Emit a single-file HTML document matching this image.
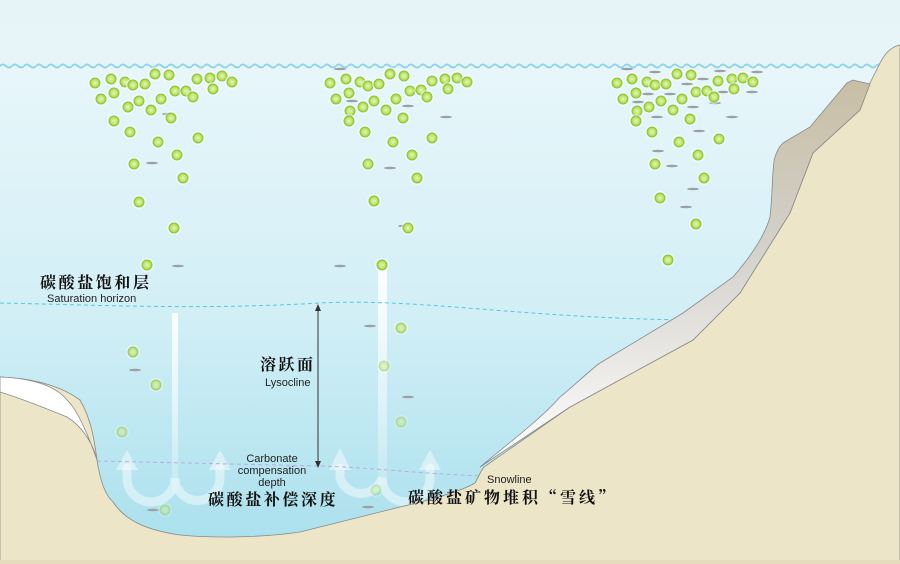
<!DOCTYPE html>
<html><head><meta charset="utf-8"><style>html,body{margin:0;padding:0;background:#fff}svg{display:block}</style></head><body>
<svg width="900" height="564" viewBox="0 0 900 564" xmlns="http://www.w3.org/2000/svg" xmlns:xlink="http://www.w3.org/1999/xlink">
<defs>
<linearGradient id="sky" x1="0" y1="0" x2="0" y2="1"><stop offset="0" stop-color="#e6f4f8"/><stop offset="1" stop-color="#f4fafc"/></linearGradient>
<linearGradient id="water" x1="0" y1="0" x2="0" y2="1"><stop offset="0" stop-color="#e8f6fa"/><stop offset="0.5" stop-color="#d2eff6"/><stop offset="1" stop-color="#a6dfec"/></linearGradient>
<linearGradient id="sed" x1="0" y1="0" x2="0" y2="1"><stop offset="0" stop-color="#c8bea4"/><stop offset="0.45" stop-color="#d4d2cc"/><stop offset="1" stop-color="#ffffff"/></linearGradient>
<linearGradient id="streak" x1="0" y1="0" x2="0" y2="1"><stop offset="0" stop-color="#fff" stop-opacity="1"/><stop offset="1" stop-color="#fff" stop-opacity="0.2"/></linearGradient>
<radialGradient id="pg" cx="0.5" cy="0.5" r="0.5"><stop offset="0" stop-color="#e6f6b8"/><stop offset="0.6" stop-color="#c2e66e"/><stop offset="1" stop-color="#9ccc3c"/></radialGradient>
<pattern id="wave" x="0" y="62" width="12" height="8" patternUnits="userSpaceOnUse"><path d="M0 4 q3 -3 6 0 t6 0" fill="none" stroke="#8fd6ea" stroke-width="2"/></pattern>
<g id="p"><circle r="7" fill="#fff" opacity="0.5"/><circle r="5" fill="url(#pg)" stroke="#8cc63f" stroke-width="1"/></g>
<g id="d"><ellipse rx="6" ry="1.3" fill="#9aa0a4"/></g>
</defs>
<rect width="900" height="564" fill="url(#sky)"/>
<rect x="0" y="66" width="900" height="498" fill="url(#water)"/>
<rect x="0" y="62" width="900" height="8" fill="url(#wave)"/>

<!-- white streaks -->
<rect x="172" y="313" width="6" height="180" fill="url(#streak)" opacity="0.9"/>
<rect x="378" y="265" width="9" height="220" fill="url(#streak)" opacity="0.9"/>
<g fill="none" stroke="#fff" stroke-opacity="0.45" stroke-width="9" stroke-linecap="round">
<path d="M127 468 V478 a22 22 0 0 0 48 0 a22 22 0 0 0 45 0 V468"/>
<path d="M340 468 V478 a22 22 0 0 0 42 0 a22 22 0 0 0 48 0 V468"/>
</g>
<g fill="#fff" fill-opacity="0.45">
<path d="M116 470 L127 450 L138 470 Z"/><path d="M209 470 L220 450 L231 470 Z"/>
<path d="M329 470 L340 448 L351 470 Z"/><path d="M419 470 L430 450 L441 470 Z"/>
</g>

<!-- dashed lines -->
<path d="M0 303 C100 305 200 310 320 303 C420 298 520 318 690 320" fill="none" stroke="#58c6dc" stroke-width="1" stroke-dasharray="4 3"/>
<path d="M97 461 L320 466 C380 468 420 474 485 476" fill="none" stroke="#b8aede" stroke-width="1" stroke-dasharray="4 3"/>

<!-- ground -->
<path d="M0 377 C30 378 60 385 80 400 C92 420 95 445 97 460 C100 480 105 495 113 502 C125 520 145 530 180 535 C210 538 260 538 300 532 L400 507 C430 500 460 492 475 483 C478 478 480 472 484 467 L570 407 L693 340 L740 293 L790 213 L813 153 L860 110 L870 83 L880 63 C884 55 890 47 900 45 L900 564 L0 564 Z" fill="#ece5c7" stroke="#888" stroke-width="0.8"/>
<rect x="0" y="560" width="900" height="4" fill="#e4dcbc"/>
<!-- left sediment -->
<path d="M0 377 C30 378 55 385 67 400 C78 410 90 440 97 460 C92 440 80 425 67 417 C45 408 20 398 0 392 Z" fill="#fff" stroke="#888" stroke-width="0.8"/>
<!-- right sediment -->
<path d="M480 467 C500 450 540 420 560 397 C575 385 590 370 600 363 L683 313 L733 277 C752 255 765 235 770 217 C773 190 772 165 775 157 C778 148 781 145 783 143 L810 127 L847 83 L853 80 L870 84 L860 110 L813 153 L790 213 L740 293 L693 340 L570 407 Z" fill="url(#sed)" stroke="#888" stroke-width="0.8"/>

<!-- arrow -->
<line x1="318" y1="309" x2="318" y2="463" stroke="#333" stroke-width="1"/>
<path d="M315 311 L318 304 L321 311 Z" fill="#333"/>
<path d="M315 461 L318 468 L321 461 Z" fill="#333"/>

<!-- dashes -->
<g>
<use href="#d" x="168" y="114"/><use href="#d" x="152" y="163"/><use href="#d" x="178" y="266"/><use href="#d" x="135" y="370"/><use href="#d" x="153" y="510"/>
<use href="#d" x="340" y="69"/><use href="#d" x="352" y="101"/><use href="#d" x="408" y="106"/><use href="#d" x="446" y="117"/><use href="#d" x="390" y="168"/><use href="#d" x="404" y="226"/><use href="#d" x="340" y="266"/><use href="#d" x="370" y="326"/><use href="#d" x="408" y="397"/><use href="#d" x="368" y="507"/>
<use href="#d" x="627" y="69"/><use href="#d" x="655" y="72"/><use href="#d" x="703" y="79"/><use href="#d" x="720" y="71"/><use href="#d" x="757" y="72"/><use href="#d" x="687" y="84"/><use href="#d" x="648" y="94"/><use href="#d" x="670" y="94"/><use href="#d" x="723" y="92"/><use href="#d" x="752" y="92"/><use href="#d" x="638" y="102"/><use href="#d" x="693" y="107"/><use href="#d" x="715" y="103"/><use href="#d" x="657" y="117"/><use href="#d" x="732" y="117"/><use href="#d" x="699" y="131"/><use href="#d" x="658" y="151"/><use href="#d" x="672" y="166"/><use href="#d" x="693" y="189"/><use href="#d" x="686" y="207"/>
</g>

<!-- particles -->
<g>
<use href="#p" x="95" y="83"/><use href="#p" x="111" y="79"/><use href="#p" x="125" y="82"/><use href="#p" x="133" y="85"/><use href="#p" x="145" y="84"/><use href="#p" x="155" y="74"/><use href="#p" x="169" y="75"/><use href="#p" x="175" y="91"/><use href="#p" x="186" y="91"/><use href="#p" x="197" y="79"/><use href="#p" x="210" y="78"/><use href="#p" x="222" y="76"/><use href="#p" x="232" y="82"/><use href="#p" x="213" y="89"/><use href="#p" x="193" y="97"/><use href="#p" x="101" y="99"/><use href="#p" x="114" y="93"/><use href="#p" x="128" y="107"/><use href="#p" x="139" y="101"/><use href="#p" x="151" y="110"/><use href="#p" x="161" y="99"/><use href="#p" x="171" y="118"/><use href="#p" x="114" y="121"/><use href="#p" x="130" y="132"/><use href="#p" x="158" y="142"/><use href="#p" x="198" y="138"/><use href="#p" x="134" y="164"/><use href="#p" x="177" y="155"/><use href="#p" x="183" y="178"/><use href="#p" x="139" y="202"/><use href="#p" x="174" y="228"/><use href="#p" x="147" y="265"/>
<use href="#p" x="133" y="352" opacity="0.8"/><use href="#p" x="156" y="385" opacity="0.7"/><use href="#p" x="122" y="432" opacity="0.5"/><use href="#p" x="165" y="510" opacity="0.4"/>
<use href="#p" x="330" y="83"/><use href="#p" x="346" y="79"/><use href="#p" x="360" y="82"/><use href="#p" x="368" y="86"/><use href="#p" x="379" y="84"/><use href="#p" x="390" y="74"/><use href="#p" x="404" y="76"/><use href="#p" x="410" y="91"/><use href="#p" x="421" y="90"/><use href="#p" x="427" y="97"/><use href="#p" x="432" y="81"/><use href="#p" x="445" y="79"/><use href="#p" x="457" y="78"/><use href="#p" x="467" y="82"/><use href="#p" x="448" y="89"/><use href="#p" x="336" y="99"/><use href="#p" x="349" y="93"/><use href="#p" x="350" y="111"/><use href="#p" x="349" y="121"/><use href="#p" x="363" y="107"/><use href="#p" x="374" y="101"/><use href="#p" x="386" y="110"/><use href="#p" x="396" y="99"/><use href="#p" x="403" y="118"/><use href="#p" x="365" y="132"/><use href="#p" x="393" y="142"/><use href="#p" x="432" y="138"/><use href="#p" x="412" y="155"/><use href="#p" x="368" y="164"/><use href="#p" x="417" y="178"/><use href="#p" x="374" y="201"/><use href="#p" x="408" y="228"/><use href="#p" x="382" y="265"/>
<use href="#p" x="401" y="328" opacity="0.7"/><use href="#p" x="384" y="366" opacity="0.5"/><use href="#p" x="401" y="422" opacity="0.45"/><use href="#p" x="376" y="490" opacity="0.35"/>
<use href="#p" x="617" y="83"/><use href="#p" x="632" y="79"/><use href="#p" x="647" y="82"/><use href="#p" x="655" y="85"/><use href="#p" x="666" y="84"/><use href="#p" x="677" y="74"/><use href="#p" x="691" y="75"/><use href="#p" x="718" y="81"/><use href="#p" x="732" y="79"/><use href="#p" x="743" y="78"/><use href="#p" x="753" y="82"/><use href="#p" x="734" y="89"/><use href="#p" x="696" y="92"/><use href="#p" x="707" y="91"/><use href="#p" x="714" y="97"/><use href="#p" x="623" y="99"/><use href="#p" x="636" y="93"/><use href="#p" x="661" y="101"/><use href="#p" x="682" y="99"/><use href="#p" x="637" y="111"/><use href="#p" x="649" y="107"/><use href="#p" x="673" y="110"/><use href="#p" x="636" y="121"/><use href="#p" x="690" y="119"/><use href="#p" x="652" y="132"/><use href="#p" x="679" y="142"/><use href="#p" x="719" y="139"/><use href="#p" x="698" y="155"/><use href="#p" x="655" y="164"/><use href="#p" x="704" y="178"/><use href="#p" x="660" y="198"/><use href="#p" x="696" y="224"/><use href="#p" x="668" y="260"/>
</g>

<!-- labels -->
<g font-family="'Noto Serif CJK SC','WenQuanYi Zen Hei',serif" font-weight="bold" fill="#111">
<text x="40" y="288" font-size="16" letter-spacing="2.6">碳酸盐饱和层</text>
<text x="260" y="370" font-size="16" letter-spacing="2.5">溶跃面</text>
<text x="208" y="505" font-size="16" letter-spacing="2.6">碳酸盐补偿深度</text>
<text x="408" y="503" font-size="16" letter-spacing="3">碳酸盐矿物堆积“雪线”</text>
</g>
<g font-family="'Liberation Sans',sans-serif" font-size="11" fill="#222">
<text x="47" y="302">Saturation horizon</text>
<text x="265" y="386">Lysocline</text>
<text x="272" y="462" text-anchor="middle">Carbonate</text>
<text x="272" y="474" text-anchor="middle">compensation</text>
<text x="272" y="486" text-anchor="middle">depth</text>
<text x="487" y="483">Snowline</text>
</g>
</svg>
</body></html>
